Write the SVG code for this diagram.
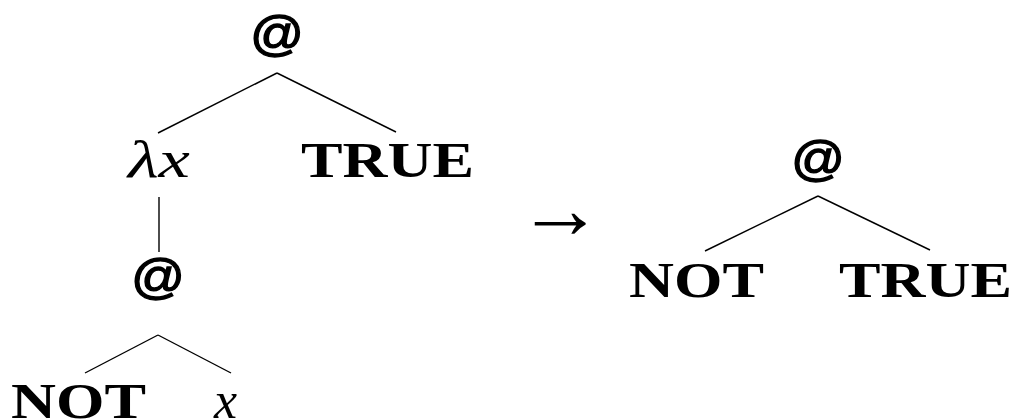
<svg xmlns="http://www.w3.org/2000/svg" width="1015" height="419" viewBox="0 0 1015 419">
<style>
.at{font-family:"Liberation Sans",Arial,sans-serif;font-size:48px;text-anchor:middle;fill:#000;stroke:#000;stroke-width:1.3}
.bf{font-family:"Liberation Serif","Times New Roman",serif;font-weight:bold;font-size:51px;fill:#000}
.it{font-family:"Liberation Serif","Times New Roman",serif;font-style:italic;font-size:52px;fill:#000}
.edge{stroke:#000;stroke-width:1.4;fill:none;stroke-linecap:butt}
</style>
<rect width="1015" height="419" fill="#fff"/>
<g id="connectors">
<line class="edge" x1="277" y1="73" x2="158" y2="133"/>
<line class="edge" x1="277" y1="73" x2="396" y2="132"/>
<line class="edge" x1="159" y1="197" x2="159" y2="252"/>
<line class="edge" x1="158" y1="335" x2="85" y2="373"/>
<line class="edge" x1="158" y1="335" x2="231" y2="373"/>
<line class="edge" x1="818" y1="196" x2="705" y2="251"/>
<line class="edge" x1="818" y1="196" x2="930" y2="250"/>
</g>
<g id="app1"><text class="at" x="277" y="50" textLength="54" lengthAdjust="spacingAndGlyphs">@</text></g>
<g id="lambda"><text class="it" x="128" y="177" textLength="62" lengthAdjust="spacingAndGlyphs">λx</text></g>
<g id="true1"><text class="bf" x="301" y="177" textLength="173" lengthAdjust="spacingAndGlyphs">TRUE</text></g>
<g id="app2"><text class="at" x="158" y="293" textLength="54" lengthAdjust="spacingAndGlyphs">@</text></g>
<g id="not1"><text class="bf" x="11" y="418" textLength="135" lengthAdjust="spacingAndGlyphs">NOT</text></g>
<g id="var1"><text class="it" x="214" y="418">x</text></g>
<g id="arrow"><text x="560" y="238" text-anchor="middle" font-family="Liberation Serif, serif" font-size="86">→</text></g>
<g id="app3"><text class="at" x="818" y="175" textLength="54" lengthAdjust="spacingAndGlyphs">@</text></g>
<g id="not2"><text class="bf" x="629" y="297" textLength="135" lengthAdjust="spacingAndGlyphs">NOT</text></g>
<g id="true2"><text class="bf" x="839" y="297" textLength="173" lengthAdjust="spacingAndGlyphs">TRUE</text></g>
</svg>
